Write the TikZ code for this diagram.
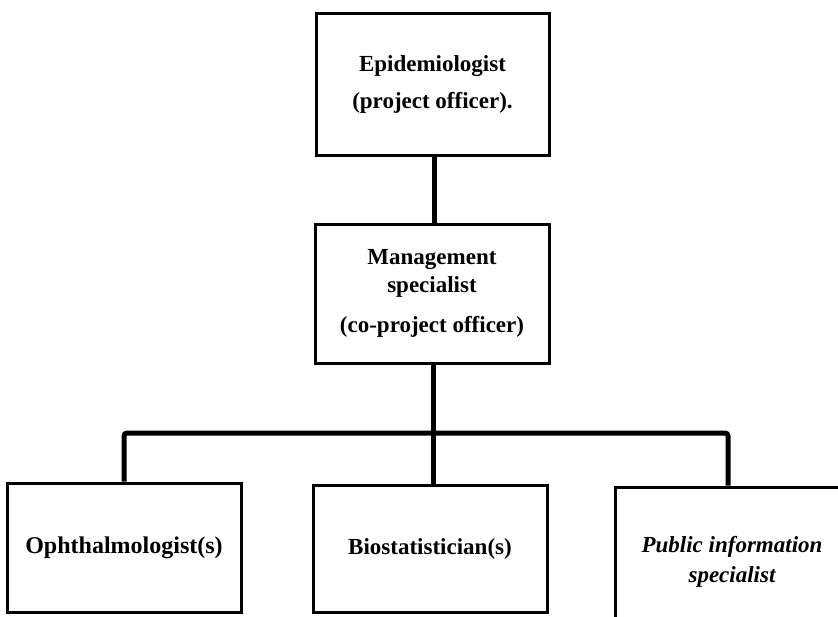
\documentclass[tikz,border=0pt]{standalone}
\usepackage{fontspec}
\setmainfont{Liberation Serif}
\begin{document}
\begin{tikzpicture}[x=1pt,y=-1pt,
  box/.style={draw=black, line width=3pt, fill=white, inner sep=0pt, align=center,
    font=\bfseries\fontsize{23}{28}\selectfont},
  conn/.style={draw=black, line width=5pt, rounded corners=3pt}]
\useasboundingbox[fill=white] (0,0) rectangle (838,616);
\clip (0,0) rectangle (838,616);
\node[box, minimum width=233pt, minimum height=142pt] (epi) at (432.5,84) {Epidemiologist\\[9pt](project officer).};
\node[box, minimum width=234pt, minimum height=139pt] (mgmt) at (432,293.5) {Management\\specialist\\[12pt](co-project officer)};
\node[box, minimum width=234pt, minimum height=129pt, font=\bfseries\fontsize{24}{28}\selectfont] (oph) at (124,547.5) {\raisebox{-4pt}{Ophthalmologist(s)}};
\node[box, minimum width=234pt, minimum height=127pt] (bio) at (430,548.5) {\raisebox{-4pt}{Biostatistician(s)}};
\node[box, minimum width=234pt, minimum height=150pt, font=\bfseries\itshape\fontsize{23}{30}\selectfont] (pub) at (732,562) {Public information\\specialist};
\coordinate (bus) at (433,433);
\draw[conn] (epi.south -| 434,0) -- (mgmt.north -| 434,0);
\draw[conn] (mgmt.south -| bus) -- (bio.north -| bus);
\draw[conn] (oph.north) |- (bus) -| (pub.north -| 728,0);
\end{tikzpicture}
\end{document}
